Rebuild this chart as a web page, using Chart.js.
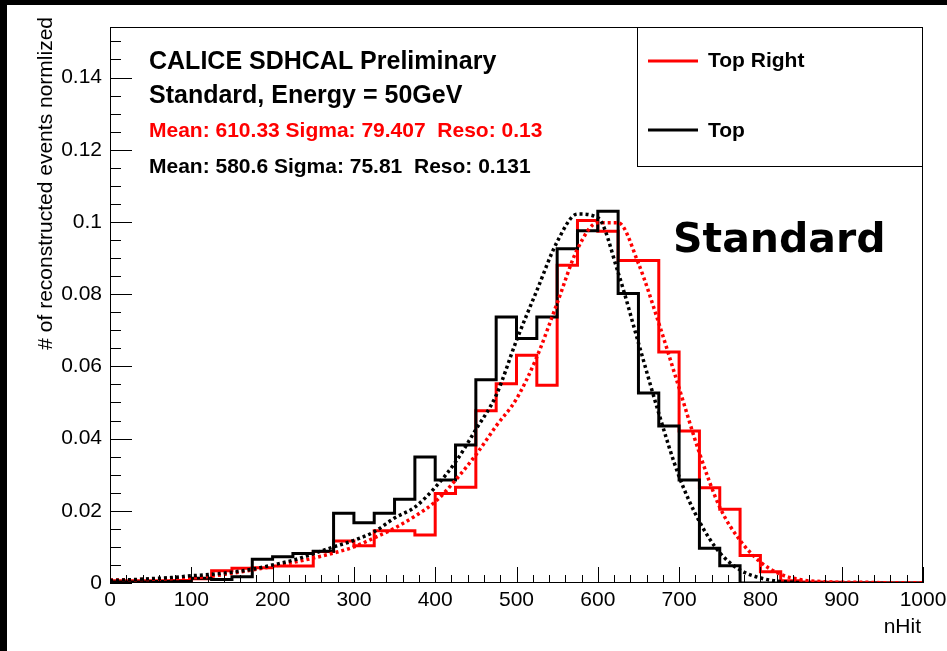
<!DOCTYPE html>
<html>
<head>
<meta charset="utf-8">
<title>nHit - Standard, 50GeV</title>
<script src="https://cdn.jsdelivr.net/npm/chart.js@4.4.1/dist/chart.umd.min.js"></script>
<style>
  body { margin: 0; background: #000; width: 947px; height: 651px; overflow: hidden; }
  #wrap { position: absolute; left: 7px; top: 5px; width: 940px; height: 646px; background: #fff; }
</style>
</head>
<body>
<div id="wrap"><canvas id="nhitChart" width="940" height="646"></canvas></div>
<script>
// bin edges of the nHit histograms (25 wide)
const binEdges = [0, 25, 50, 75, 100, 125, 150, 175, 200, 225, 250, 275, 300, 325, 350, 375, 400,
    425, 450, 475, 500, 525, 550, 575, 600, 625, 650, 675, 700, 725, 750, 775, 800,
    825, 850, 875, 900, 925, 950, 975, 1000];

// histogram contents, one per bin
const topRightHist = [0.0006, 0.0006, 0.0006, 0.0007, 0.0012, 0.0034, 0.0041, 0.0042, 0.0047, 0.0047,
    0.0087, 0.0116, 0.0103, 0.0145, 0.0145, 0.0133, 0.0248, 0.0265, 0.0477, 0.0552,
    0.0631, 0.0548, 0.0880, 0.1004, 0.0974, 0.0893, 0.0893, 0.0640, 0.0421, 0.0264,
    0.0204, 0.0076, 0.0031, 0.0006, 0.0003, 0.0002, 0.0001, 0.0001, 0, 0];
const topHist = [0.0003, 0.0003, 0.0004, 0.0004, 0.0013, 0.0010, 0.0017, 0.0066, 0.0073, 0.0082,
    0.0088, 0.0193, 0.0167, 0.0193, 0.0232, 0.0349, 0.0285, 0.0382, 0.0563, 0.0737,
    0.0677, 0.0737, 0.0926, 0.0976, 0.1030, 0.0802, 0.0526, 0.0435, 0.0285, 0.0096,
    0.0048, 0, 0, 0, 0, 0, 0, 0, 0, 0];

// fitted curves, read at the bin edges
const topRightFit = [0.0008, 0.0009, 0.0010, 0.0012, 0.0014, 0.0019, 0.0027, 0.0036, 0.0046, 0.0057,
    0.0069, 0.0083, 0.0100, 0.0125, 0.0152, 0.0185, 0.0225, 0.0285, 0.0355, 0.0435,
    0.0510, 0.0626, 0.0775, 0.0925, 0.0998, 0.0998, 0.0885, 0.0720, 0.0540, 0.0360,
    0.0210, 0.0118, 0.0058, 0.0024, 0.0009, 0.0004, 0.0002, 0.0002, 0.0001, 0.0001, 0.0001];
const topFit = [0.0007, 0.0009, 0.0012, 0.0015, 0.0020, 0.0024, 0.0030, 0.0038, 0.0050, 0.0063,
    0.0081, 0.0100, 0.0118, 0.0142, 0.0180, 0.0210, 0.0265, 0.0335, 0.0425, 0.0520,
    0.0672, 0.0810, 0.0945, 0.1022, 0.1012, 0.0860, 0.0665, 0.0470, 0.0295, 0.0170,
    0.0084, 0.0036, 0.0014, 0.0004, 0.0001];

const xTicks = [0, 100, 200, 300, 400, 500, 600, 700, 800, 900, 1000];
const yTicks = [0, 0.02, 0.04, 0.06, 0.08, 0.1, 0.12, 0.14];

const seriesNames = ['Top Right', 'Top'];
const statLines = [
    'Mean: 610.33 Sigma: 79.407  Reso: 0.13',
    'Mean: 580.6 Sigma: 75.81  Reso: 0.131'
];

const fontFamily = '"Liberation Sans", Arial, Helvetica, sans-serif';

function histPoints(edges, vals) {
    // one point per left edge plus the closing edge, drawn stepped
    const pts = vals.map((v, i) => ({ x: edges[i], y: v }));
    pts.push({ x: edges[vals.length], y: vals[vals.length - 1] });
    return pts;
}
function curvePoints(xs, vals) {
    return vals.map((v, i) => ({ x: xs[i], y: v }));
}

const rootDecor = {
    id: 'rootDecor',
    afterDatasetsDraw(chart) {
        const { ctx, chartArea: a, scales: { x, y } } = chart;
        ctx.save();
        ctx.strokeStyle = '#000';
        ctx.lineWidth = 1;
        ctx.strokeRect(Math.round(a.left) + 0.5, Math.round(a.top) + 0.5,
            Math.round(a.right - a.left) - 1, Math.round(a.bottom - a.top) - 1);

        // ticks drawn inside the frame, ROOT style
        ctx.beginPath();
        for (let i = 0; i <= 50; i++) {
            const px = Math.round(x.getPixelForValue(i * 20)) + 0.5;
            const len = i % 5 === 0 ? 16 : 8;
            ctx.moveTo(px, a.bottom);
            ctx.lineTo(px, a.bottom - len);
        }
        for (let i = 0; i <= 30; i++) {
            const py = Math.round(y.getPixelForValue(i * 0.005)) + 0.5;
            if (py < a.top) break;
            const len = i % 4 === 0 ? 22 : 11;
            ctx.moveTo(a.left, py);
            ctx.lineTo(a.left + len, py);
        }
        ctx.stroke();
        ctx.restore();
    },
    afterDraw(chart) {
        const { ctx } = chart;
        ctx.save();

        // legend box
        ctx.fillStyle = '#fff';
        ctx.fillRect(630, 22, 286, 139);
        ctx.strokeStyle = '#000';
        ctx.lineWidth = 1;
        ctx.strokeRect(630.5, 22.5, 285, 139);
        ctx.lineWidth = 3;
        ctx.strokeStyle = '#ff0000';
        ctx.beginPath(); ctx.moveTo(641, 56); ctx.lineTo(691, 56); ctx.stroke();
        ctx.strokeStyle = '#000';
        ctx.beginPath(); ctx.moveTo(641, 125); ctx.lineTo(691, 125); ctx.stroke();
        ctx.fillStyle = '#000';
        ctx.font = 'bold 21px ' + fontFamily;
        ctx.textAlign = 'left';
        ctx.textBaseline = 'alphabetic';
        ctx.fillText(seriesNames[0], 701, 62);
        ctx.fillText(seriesNames[1], 701, 132);

        // header texts
        ctx.font = 'bold 25px ' + fontFamily;
        ctx.fillText('CALICE SDHCAL Preliminary', 142, 64);
        ctx.fillText('Standard, Energy = 50GeV', 142, 98);
        ctx.font = 'bold 21px ' + fontFamily;
        ctx.fillStyle = '#ff0000';
        ctx.fillText(statLines[0], 142, 132);
        ctx.fillStyle = '#000';
        ctx.fillText(statLines[1], 142, 168);

        // big label
        ctx.font = 'bold 41px "DejaVu Sans", sans-serif';
        ctx.fillText('Standard', 666, 247);

        // axis titles
        ctx.font = '21px ' + fontFamily;
        ctx.textAlign = 'right';
        ctx.fillText('nHit', 914, 628);
        ctx.translate(45, 12);
        ctx.rotate(-Math.PI / 2);
        ctx.fillText('# of reconstructed events normlized', 0, 0);
        ctx.restore();
    }
};

const ctx = document.getElementById('nhitChart').getContext('2d');
const nhitChart = new Chart(ctx, {
    type: 'line',
    data: {
        datasets: [
            {
                label: 'Top fit',
                data: curvePoints(binEdges, topFit),
                borderColor: '#000',
                borderWidth: 3.5,
                borderDash: [3, 3],
                cubicInterpolationMode: 'monotone',
                pointRadius: 0
            },
            {
                label: 'Top Right fit',
                data: curvePoints(binEdges, topRightFit),
                borderColor: '#ff0000',
                borderWidth: 3.5,
                borderDash: [3, 3],
                cubicInterpolationMode: 'monotone',
                pointRadius: 0
            },
            {
                label: seriesNames[1],
                data: histPoints(binEdges, topHist),
                stepped: 'before',
                borderColor: '#000',
                borderWidth: 3,
                pointRadius: 0
            },
            {
                label: seriesNames[0],
                data: histPoints(binEdges, topRightHist),
                stepped: 'before',
                borderColor: '#ff0000',
                borderWidth: 3,
                pointRadius: 0
            }
        ]
    },
    options: {
        responsive: false,
        animation: false,
        layout: {
            padding: { left: 0, right: 24, top: 22, bottom: 0 }
        },
        plugins: {
            legend: { display: false },
            tooltip: { enabled: false }
        },
        scales: {
            x: {
                type: 'linear',
                min: 0,
                max: 1000,
                grid: { display: false, drawTicks: false },
                border: { display: false },
                afterBuildTicks: scale => { scale.ticks = xTicks.map(v => ({ value: v })); },
                afterFit: scale => {
                    scale.height = 68;
                    scale.paddingLeft = 0;
                    scale.paddingRight = 0;
                },
                ticks: {
                    padding: 5,
                    color: '#000',
                    maxRotation: 0,
                    autoSkip: false,
                    font: { family: fontFamily, size: 21 },
                    callback: value => String(value)
                }
            },
            y: {
                type: 'linear',
                min: 0,
                max: 0.154,
                grid: { display: false, drawTicks: false },
                border: { display: false },
                afterBuildTicks: scale => { scale.ticks = yTicks.map(v => ({ value: v })); },
                afterFit: scale => { scale.width = 103; },
                ticks: {
                    padding: 8,
                    color: '#000',
                    autoSkip: false,
                    font: { family: fontFamily, size: 21 },
                    callback: value => String(+value.toFixed(3))
                }
            }
        }
    },
    plugins: [rootDecor]
});
</script>
</body>
</html>
